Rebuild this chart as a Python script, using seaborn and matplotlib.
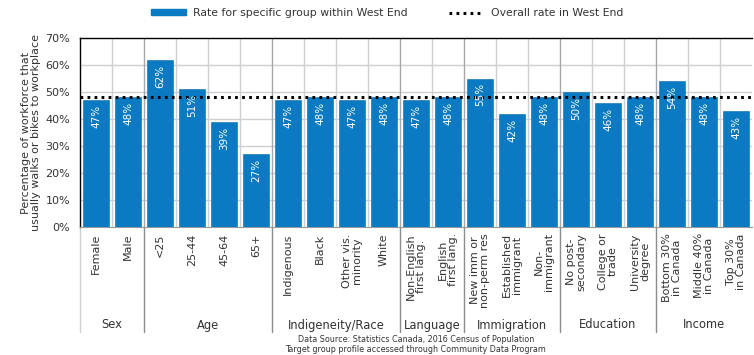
import matplotlib
matplotlib.use("Agg")
import matplotlib.pyplot as plt
import matplotlib.transforms as mtransforms
from matplotlib.patches import Patch
from matplotlib.lines import Line2D
import seaborn as sns
import pandas as pd

# ---- data ----
categories = [
    "Female", "Male",
    "<25", "25-44", "45-64", "65+",
    "Indigenous", "Black", "Other vis.\nminority", "White",
    "Non-English\nfirst lang.", "English\nfirst lang.",
    "New imm or\nnon-perm res", "Established\nimmigrant", "Non-\nimmigrant",
    "No post-\nsecondary", "College or\ntrade", "University\ndegree",
    "Bottom 30%\nin Canada", "Middle 40%\nin Canada", "Top 30%\nin Canada",
]
rates = [47, 48, 62, 51, 39, 27, 47, 48, 47, 48, 47, 48, 55, 42, 48, 50, 46, 48, 54, 48, 43]
groups = ["Sex", "Age", "Indigeneity/Race", "Language", "Immigration", "Education", "Income"]
group_sizes = [2, 4, 4, 2, 3, 3, 3]
overall_rate = 48

df = pd.DataFrame({"category": categories, "rate": rates})

BLUE = "#0a7ac3"
TEXT = "#333333"

sns.set_theme(style="white")
plt.rcParams["font.family"] = ["DejaVu Sans"]

W, H = 754, 355
fig = plt.figure(figsize=(W / 100, H / 100), dpi=100)
ax_l, ax_r, ax_t, ax_b = 80, 752, 38, 227
ax = fig.add_axes([ax_l / W, 1 - ax_b / H, (ax_r - ax_l) / W, (ax_b - ax_t) / H])

sns.barplot(data=df, x="category", y="rate", order=categories, color=BLUE,
            saturation=1, width=0.8, edgecolor="#0868a8", linewidth=0.4, ax=ax, zorder=3)

n = len(categories)
ax.set_xlim(-0.5, n - 0.5)
ax.set_ylim(0, 70)

# grid: horizontal every 10 %, vertical at category boundaries
for yv in range(10, 70, 10):
    ax.axhline(yv, color="#cfcfcf", lw=1, zorder=1)
bounds = []
acc = 0
for s in group_sizes[:-1]:
    acc += s
    bounds.append(acc - 0.5)
for i in range(n - 1):
    xb = i + 0.5
    ax.axvline(xb, color="#a8a8a8" if xb in bounds else "#cfcfcf", lw=1, zorder=1)

# overall rate line
ax.axhline(overall_rate, color="black", lw=2.2, ls=(0, (0.9, 1.4)), zorder=5)

# value labels inside bars
for i, v in enumerate(rates):
    ax.annotate(f"{v}%", xy=(i, v), xytext=(0, -3.5), textcoords="offset points",
                rotation=90, ha="center", va="top", color="white", fontsize=7.5, zorder=6)

# axes styling
ax.set_yticks(range(0, 71, 10))
ax.set_yticklabels([f"{t}%" for t in range(0, 71, 10)], fontsize=8, color=TEXT)
ax.tick_params(axis="y", length=0, pad=7)
ax.set_ylabel("Percentage of workforce that\nusually walks or bikes to workplace",
              fontsize=8, color=TEXT, labelpad=3, linespacing=1.1)
ax.set_xlabel("")
for side in ["top", "left"]:
    ax.spines[side].set_color("black")
    ax.spines[side].set_linewidth(1)
ax.spines["right"].set_visible(False)
ax.spines["bottom"].set_color("#9a9a9a")
ax.spines["bottom"].set_linewidth(0.8)

# category tick labels, rotated and hanging from the axis
ax.set_xticks(range(n))
ax.set_xticklabels(categories, rotation=90, fontsize=8, color=TEXT,
                   linespacing=1.05, multialignment="center")
ax.tick_params(axis="x", length=0, pad=4.5)

# group separators and group names below the axis
trans = mtransforms.blended_transform_factory(ax.transData, ax.transAxes)
ph = ax_b - ax_t
y_line_end = -(332 - ax_b) / ph
y_group = -(325 - ax_b) / ph
for xb in [-0.5] + bounds:
    ax.plot([xb, xb], [0, y_line_end], transform=trans, clip_on=False,
            color="#8c8c8c" if xb != -0.5 else "#d0d0d0", lw=1)
start = 0
for g, s in zip(groups, group_sizes):
    center = start + (s - 1) / 2
    ax.text(center, y_group, g, transform=trans, ha="center", va="center",
            fontsize=8.3, color=TEXT)
    start += s

# legend
handles = [
    Patch(facecolor=BLUE, edgecolor=BLUE, label="Rate for specific group within West End"),
    Line2D([0], [0], color="black", lw=2.2, ls=(0, (0.9, 1.4)), label="Overall rate in West End"),
]
fig.legend(handles=handles, loc="center", bbox_to_anchor=(387 / W, 1 - 13 / H), ncol=2,
           frameon=False, fontsize=7.8, handlelength=3.3, handleheight=0.5,
           columnspacing=3.8, handletextpad=0.6, labelcolor=TEXT)

# source note
cx = (ax_l + ax_r) / 2 / W
fig.text(cx, 1 - 340 / H, "Data Source: Statistics Canada, 2016 Census of Population",
         ha="center", va="center", fontsize=5.8, color=TEXT)
fig.text(cx, 1 - 349 / H, "Target group profile accessed through Community Data Program",
         ha="center", va="center", fontsize=5.8, color=TEXT)

fig.savefig("out.png", dpi=100)
